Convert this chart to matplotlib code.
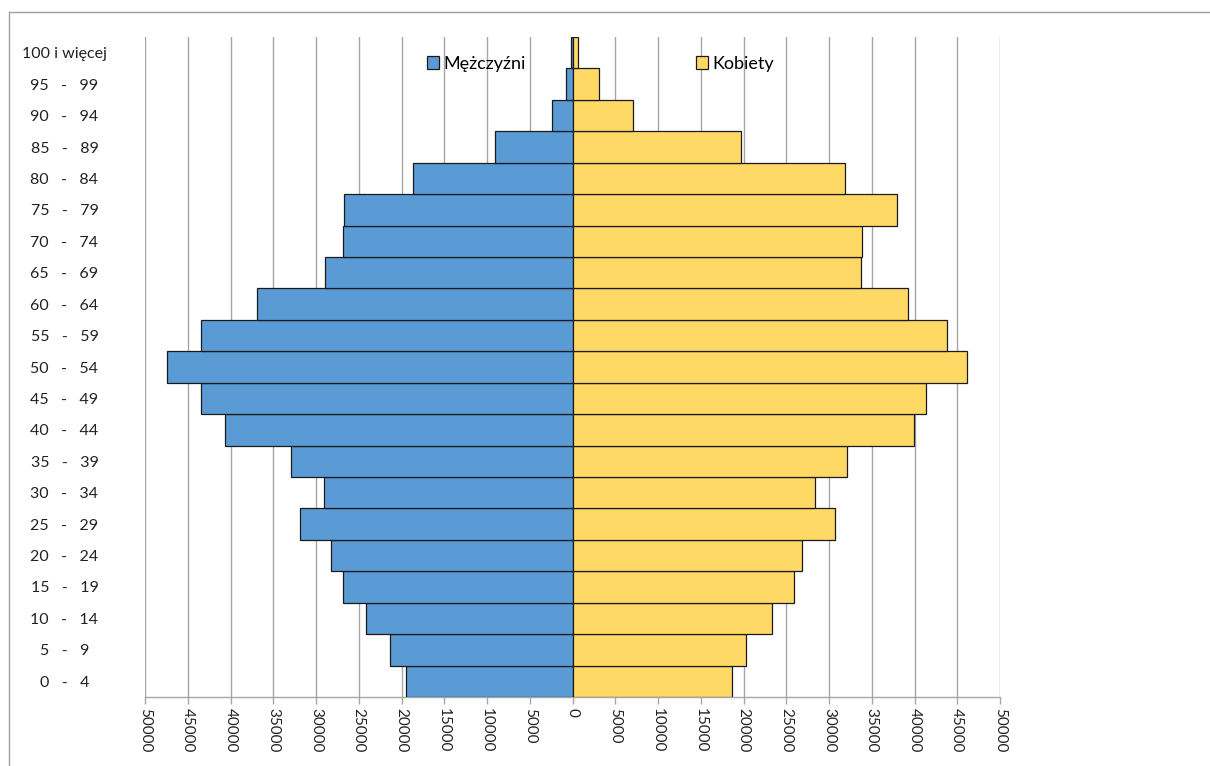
import matplotlib
matplotlib.use("Agg")
import matplotlib.pyplot as plt
from matplotlib.patches import Patch
from matplotlib.lines import Line2D
import numpy as np

plt.rcParams['font.family'] = ['Lato', 'DejaVu Sans']

age_groups = ["0   -   4", "5   -   9", "10   -   14", "15   -   19", "20   -   24", "25   -   29",
              "30   -   34", "35   -   39", "40   -   44", "45   -   49", "50   -   54", "55   -   59",
              "60   -   64", "65   -   69", "70   -   74", "75   -   79", "80   -   84", "85   -   89",
              "90   -   94", "95   -   99", "100 i więcej"]

males = [19500, 21300, 24100, 26900, 28300, 31900, 29100, 32900, 40700, 43500, 47400,
         43500, 36850, 29000, 26900, 26700, 18600, 9100, 2450, 800, 200]

females = [18700, 20350, 23300, 25850, 26900, 30650, 28400, 32150, 39900, 41300, 46100,
           43850, 39200, 33700, 33900, 38000, 31900, 19650, 7100, 3150, 700]

x_ticks = list(range(-50000, 50001, 5000))
x_tick_labels = [str(abs(v)) for v in x_ticks]

male_color = "#5B9BD5"
female_color = "#FFD966"
grid_color = "#A6A6A6"

W, H = 1210, 766
fig = plt.figure(figsize=(W / 100, H / 100), dpi=100)
ax = fig.add_axes([145 / W, 1 - 697 / H, (1000 - 145) / W, (697 - 37) / H])

y = np.arange(len(age_groups))
ax.barh(y, [-m for m in males], height=1.0, color=male_color, edgecolor="#1a1a1a",
        linewidth=0.9, zorder=3)
ax.barh(y, females, height=1.0, color=female_color, edgecolor="#1a1a1a",
        linewidth=0.9, zorder=3)

ax.set_xlim(-50000, 50000)
ax.set_ylim(-0.5, len(age_groups) - 0.5)
ax.set_xticks(x_ticks)
ax.set_xticklabels(x_tick_labels, rotation=-90, ha='center', va='top', fontsize=11,
                   color='#222222')
ax.set_yticks(y)
ax.set_yticklabels(age_groups, fontsize=11.5, color='#222222', ha='center')
ax.tick_params(axis='y', length=0, pad=58)
ax.tick_params(axis='x', length=5, color=grid_color, width=1, pad=3)

ax.grid(axis='x', color=grid_color, linewidth=1, zorder=0)
ax.set_axisbelow(True)
for s in ['top', 'left', 'right']:
    ax.spines[s].set_visible(False)
ax.spines['bottom'].set_color(grid_color)
ax.spines['bottom'].set_linewidth(1)

# legends
fs = 13
h1 = Patch(facecolor=male_color, edgecolor='#1a1a1a', linewidth=0.9)
h2 = Patch(facecolor=female_color, edgecolor='#1a1a1a', linewidth=0.9)
leg1 = ax.legend([h1], ["Mężczyźni"], loc='center left',
                 bbox_to_anchor=(427 / W, 1 - 64 / H), bbox_transform=fig.transFigure,
                 frameon=False, fontsize=fs, handlelength=0.68, handleheight=0.68,
                 handletextpad=0.25, borderpad=0, borderaxespad=0)
ax.add_artist(leg1)
leg2 = ax.legend([h2], ["Kobiety"], loc='center left',
                 bbox_to_anchor=(696 / W, 1 - 64 / H), bbox_transform=fig.transFigure,
                 frameon=False, fontsize=fs, handlelength=0.68, handleheight=0.68,
                 handletextpad=0.25, borderpad=0, borderaxespad=0)

# outer frame (top and left edges visible)
fig.add_artist(Line2D([9 / W, 1], [1 - 12 / H, 1 - 12 / H], transform=fig.transFigure,
                      color='#A0A0A0', linewidth=1))
fig.add_artist(Line2D([9 / W, 9 / W], [0, 1 - 12 / H], transform=fig.transFigure,
                      color='#A0A0A0', linewidth=1))

fig.savefig("out.png", dpi=100)
